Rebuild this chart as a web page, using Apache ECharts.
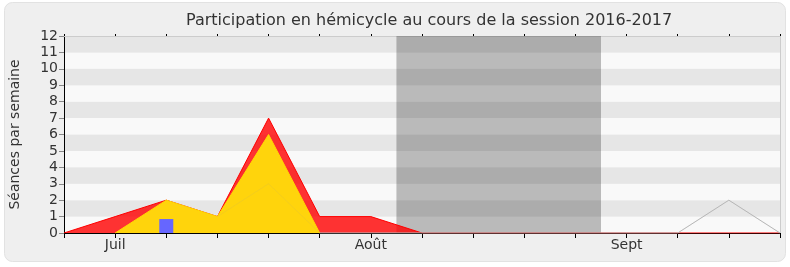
<!DOCTYPE html>
<html>
<head>
<meta charset="utf-8">
<script src="https://cdn.jsdelivr.net/npm/echarts@6/dist/echarts.min.js"></script>
<style>
  html, body { margin: 0; padding: 0; background: #ffffff; }
  #chart { width: 790px; height: 267px; }
</style>
</head>
<body>
<div id="chart"></div>
<script>
// Weekly sittings, one entry per week (index 0 .. 14)
const weekTickLabels = ['', 'Juil', '', '', '', '', 'Août', '', '', '', '', 'Sept', '', '', ''];
const presenceTotal = [0, 1, 2, 1, 7, 1, 1, 0, 0, 0, 0, 0, 0, 0, 0];
const presenceCommission = [null, 0, 2, 1, 6, 0, null, null, null, null, null, null, null, null, null];
const referenceLine = [null, null, null, 1, 3, 0, 0, 0, 0, 0, 0, 0, 0, 2, 0];
const interventions = [[2, 0.85]];
const recessWeeks = [6.5, 10.5];

const FONT = 'DejaVu Sans';
const toPairs = arr => arr.map((v, i) => [i, v]);

const chart = echarts.init(document.getElementById('chart'), null, { renderer: 'canvas' });

chart.setOption({
  animation: false,
  backgroundColor: '#ffffff',
  graphic: [{
    type: 'rect',
    z: -10,
    shape: { x: 4.5, y: 2.5, width: 781, height: 259, r: 8 },
    style: { fill: '#efefef', stroke: '#e2e2e2', lineWidth: 1 }
  }],
  title: {
    text: 'Participation en hémicycle au cours de la session 2016-2017',
    left: 181,
    top: 8,
    textStyle: { fontFamily: FONT, fontSize: 16, fontWeight: 'normal', color: '#333333' }
  },
  grid: { left: 62, right: 10, top: 36, bottom: 34, containLabel: false },
  xAxis: [{
    type: 'value',
    min: 0, max: 14, interval: 1,
    axisLine: { show: true, onZero: false, lineStyle: { color: '#000000', width: 1 } },
    axisTick: { show: true, length: 5, lineStyle: { color: '#000000' } },
    axisLabel: {
      fontFamily: FONT, fontSize: 14, color: '#333333', margin: 5,
      formatter: v => weekTickLabels[v] || ''
    },
    splitLine: { show: false }
  }, {
    type: 'value',
    position: 'top',
    min: 0, max: 14, interval: 1,
    axisLine: { show: true, onZero: false, lineStyle: { color: '#cccccc', width: 1 } },
    axisTick: { show: true, length: 2, lineStyle: { color: '#000000' } },
    axisLabel: { show: false },
    splitLine: { show: false }
  }],
  yAxis: [{
    type: 'value',
    min: 0, max: 12, interval: 1,
    name: 'Séances par semaine',
    nameLocation: 'middle',
    nameGap: 42,
    nameTextStyle: { fontFamily: FONT, fontSize: 14, color: '#333333' },
    axisLine: { show: true, onZero: false, lineStyle: { color: '#000000', width: 1 } },
    axisTick: { show: true, length: 5, lineStyle: { color: '#888888' } },
    axisLabel: { fontFamily: FONT, fontSize: 14, color: '#333333', margin: 6 },
    splitLine: { show: false },
    splitArea: { show: true, areaStyle: { color: ['#f9f9f9', '#e6e6e6'] } }
  }, {
    type: 'value',
    position: 'right',
    min: 0, max: 12, interval: 1,
    axisLine: { show: true, onZero: false, lineStyle: { color: '#cccccc', width: 1 } },
    axisTick: { show: false },
    axisLabel: { show: false },
    splitLine: { show: false }
  }],
  series: [
    {
      name: 'Vacances',
      type: 'line',
      z: 1,
      data: [],
      markArea: {
        silent: true,
        itemStyle: { color: 'rgba(0,0,0,0.25)' },
        data: [[{ xAxis: recessWeeks[0] }, { xAxis: recessWeeks[1] }]]
      }
    },
    {
      name: 'Présences',
      type: 'line',
      z: 2,
      symbol: 'none',
      data: toPairs(presenceTotal),
      lineStyle: { color: '#ff0000', width: 1 },
      areaStyle: { color: 'rgba(255,0,0,0.8)', opacity: 1, origin: 'start' }
    },
    {
      name: 'Médiane',
      type: 'line',
      z: 3,
      symbol: 'none',
      data: toPairs(referenceLine),
      lineStyle: { color: '#bbbbbb', width: 1 }
    },
    {
      name: 'Présences en commission',
      type: 'line',
      z: 4,
      symbol: 'none',
      data: toPairs(presenceCommission),
      lineStyle: { color: '#ffd800', width: 1 },
      areaStyle: { color: '#ffd40c', opacity: 1, origin: 'start' }
    },
    {
      // faint trace of the median showing through the filled areas
      name: 'Médiane (trace)',
      type: 'line',
      z: 5,
      symbol: 'none',
      data: toPairs(referenceLine),
      lineStyle: { color: '#999999', width: 1, opacity: 0.12 }
    },
    {
      name: 'Interventions',
      type: 'bar',
      z: 6,
      barWidth: 14,
      data: interventions,
      itemStyle: { color: '#6666ff' }
    }
  ]
});
</script>
</body>
</html>
